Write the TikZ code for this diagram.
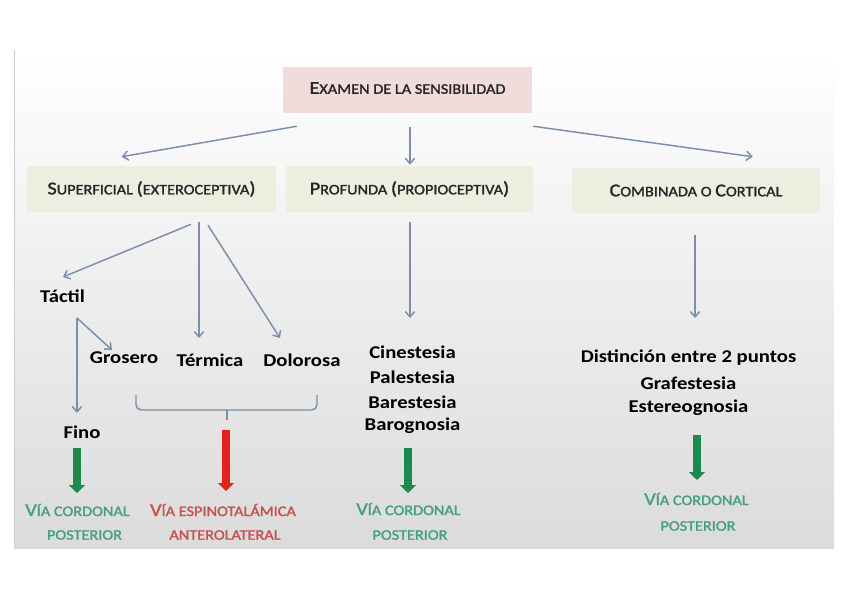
\documentclass[tikz,border=0pt]{standalone}
\usepackage{fontspec}
\setmainfont{Carlito}[FakeStretch=1.15]
\newfontfamily\scfam{Carlito}[FakeStretch=1.12, FakeBold=1.6]
\usetikzlibrary{arrows.meta}
\definecolor{connc}{HTML}{7B8FAB}
\definecolor{pinkbox}{HTML}{F2DCDB}
\definecolor{beigebox}{HTML}{EDEEDF}
\definecolor{darkgreen}{HTML}{1B8A4C}
\definecolor{lightgreen}{HTML}{47A07A}
\definecolor{redarrow}{HTML}{E0231C}
\definecolor{redtext}{HTML}{C6514F}
\definecolor{headtext}{HTML}{262626}
\newcommand\BG[1]{{\fontsize{13.5pt}{16pt}\selectfont #1}}
\tikzset{
  scfont/.style={font=\scfam\fontsize{10.9pt}{13pt}\selectfont},
  topbox/.style={scfont, text=headtext, fill=pinkbox, inner sep=0pt, minimum width=186.75pt, minimum height=34.5pt},
  lvlbox/.style={scfont, text=headtext, fill=beigebox, inner sep=0pt, minimum height=34.5pt},
  item/.style={font=\bfseries\fontsize{13.5pt}{16pt}\selectfont, inner sep=0pt},
  conn/.style={draw=connc, line width=1.1pt, -{Straight Barb[length=4pt,width=7pt]}},
  greenarrow/.style={draw=darkgreen, line width=6pt, -{Triangle[length=6pt,width=12pt]}},
  redarr/.style={draw=redarrow, line width=6pt, -{Triangle[length=6pt,width=12pt]}},
  greenlabel/.style={scfont, text=lightgreen, inner sep=0pt},
  redlabel/.style={scfont, text=redtext, inner sep=0pt},
}
\begin{document}
\begin{tikzpicture}[x=0.75pt,y=-0.75pt]
\useasboundingbox (0,0) rectangle (848,599);
% background frame
\shade[top color=white, middle color=white, bottom color=black!14] (14,50) rectangle (834,548);
\draw[black!20, line width=0.6pt] (14,50) -- (14,548);

% boxes
\node[topbox] (top) at (407.5,90) {\raisebox{3pt}{\BG{E}XAMEN DE LA SENSIBILIDAD}};
\node[lvlbox, minimum width=186.75pt] (sup) at (151.5,189) {\BG{S}UPERFICIAL \BG{(}EXTEROCEPTIVA\BG{)}};
\node[lvlbox, minimum width=185.25pt] (pro) at (409.5,189) {\BG{P}ROFUNDA \BG{(}PROPIOCEPTIVA\BG{)}};
\node[lvlbox, minimum width=186pt, minimum height=33.75pt] (com) at (696,190.5) {\BG{C}OMBINADA O \BG{C}ORTICAL};

% items
\node[item] (tac) at (62.5,296) {Táctil};
\node[item] (gro) at (124,358) {Grosero};
\node[item] (ter) at (210,360) {Térmica};
\node[item] (dol) at (302,360) {Dolorosa};
\node[item] (fin) at (82,432) {Fino};

\node[item] (cin) at (412.5,352) {Cinestesia};
\node[item] (pal) at (412.5,377) {Palestesia};
\node[item] (bar) at (412.5,402) {Barestesia};
\node[item] (bag) at (412.5,426) {Barognosia};

\node[item] (dis) at (688.5,358) {Distinción entre 2 puntos};
\node[item] (gra) at (688.5,383) {Grafestesia};
\node[item] (est) at (688.5,408) {Estereognosia};

% connectors from top
\draw[conn] ([shift={(14,13)}]top.south west) -- ([shift={(95,-9)}]sup.north west);
\draw[conn] ([shift={(2.5,14)}]top.south) -- ([shift={(0.5,-1)}]pro.north);
\draw[conn] ([shift={(1,13)}]top.south east) -- ([shift={(181,-11)}]com.north west);

% superficial
\draw[conn] ([shift={(39.5,12)}]sup.south) -- ([shift={(0.5,-19)}]tac.center);
\draw[conn] ([shift={(47.5,10)}]sup.south) -- ([shift={(-11,-22)}]ter.center);
\draw[conn] ([shift={(56.5,13)}]sup.south) -- ([shift={(-22,-22)}]dol.center);
\draw[conn] ([shift={(14.5,22)}]tac.center) -- ([shift={(-12,-8)}]gro.center);
\draw[conn] ([shift={(14.5,22)}]tac.center) -- ([shift={(-5,-19)}]fin.center);

% profunda, combinada
\draw[conn] ([shift={(0.5,10)}]pro.south) -- ([shift={(-2.5,-34)}]cin.center);
\draw[conn] ([shift={(-1,22)}]com.south) -- ([shift={(6.5,-40)}]dis.center);

% brace
\coordinate (bl) at (136,395);
\coordinate (br) at (317,395);
\coordinate (bm) at (227,410);
\draw[connc, line width=1.1pt, rounded corners=4pt] (bl) |- (br |- bm) -- (br);
\draw[connc, line width=1.1pt] (bm) -- ++(0,10);

% thick arrows
\draw[greenarrow] ([shift={(-5,16)}]fin.center) -- ++(0,45);
\draw[redarr] ([shift={(-1,20)}]bm) -- ++(0,61);
\draw[greenarrow] ([shift={(-4.5,22)}]bag.center) -- ++(0,45);
\draw[greenarrow] ([shift={(8.5,27)}]est.center) -- ++(0,45);

% labels
\node[greenlabel] (l1a) at (77.5,510) {\BG{V}ÍA CORDONAL};
\node[greenlabel] (l1b) at (84.5,535) {POSTERIOR};
\node[redlabel] (l2a) at (223,510) {\BG{V}ÍA ESPINOTALÁMICA};
\node[redlabel] (l2b) at (225,535) {ANTEROLATERAL};
\node[greenlabel] (l3a) at (408.5,509) {\BG{V}ÍA CORDONAL};
\node[greenlabel] (l3b) at (410,535) {POSTERIOR};
\node[greenlabel] (l4a) at (696.5,499) {\BG{V}ÍA CORDONAL};
\node[greenlabel] (l4b) at (698,526) {POSTERIOR};
\end{tikzpicture}
\end{document}
